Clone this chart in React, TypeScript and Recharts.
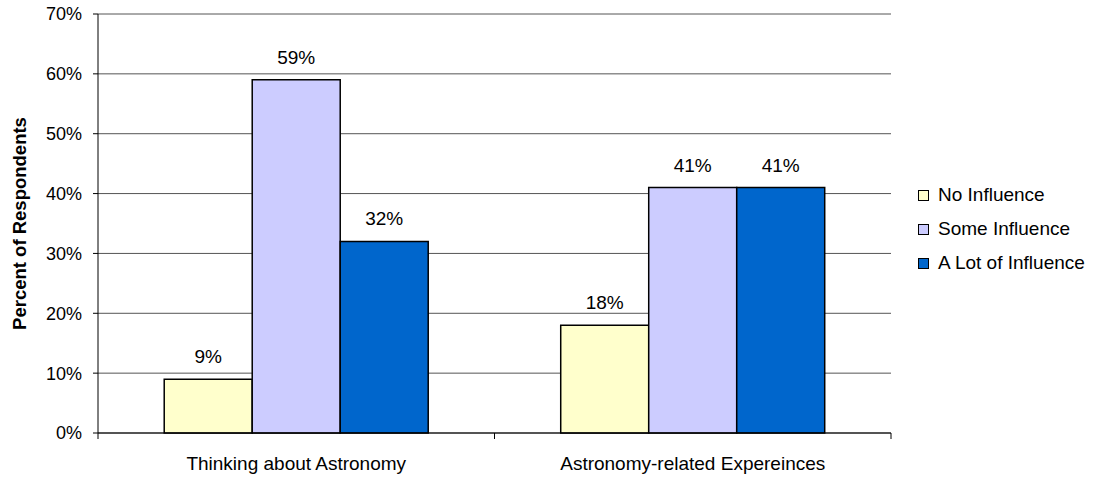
import { BarChart, Bar, XAxis, YAxis, CartesianGrid, LabelList } from 'recharts'

const categories = ['Thinking about Astronomy', 'Astronomy-related Expereinces']
const noInfluence = [9, 18]
const someInfluence = [59, 41]
const lotOfInfluence = [32, 41]
const yTicks = [0, 10, 20, 30, 40, 50, 60, 70]

const SERIES = [
  { key: 'none', name: 'No Influence', color: '#FFFFCC' },
  { key: 'some', name: 'Some Influence', color: '#CCCCFF' },
  { key: 'lot', name: 'A Lot of Influence', color: '#0066CC' },
]

const data = categories.map((c, i) => ({
  name: c,
  none: noInfluence[i],
  some: someInfluence[i],
  lot: lotOfInfluence[i],
}))

const FONT = '"Liberation Sans", Arial, sans-serif'

// category label plus tick marks at both band edges
const CategoryTick = ({ x, y, payload }: any) => {
  const half = payload?.offset ?? 0
  return (
    <g>
      <line x1={x - half} x2={x - half} y1={y} y2={y + 6} stroke="#000" />
      <line x1={x + half} x2={x + half} y1={y} y2={y + 6} stroke="#000" />
      <text x={x} y={y + 37} textAnchor="middle" fontSize={19} fill="#000" fontFamily={FONT}>
        {payload.value}
      </text>
    </g>
  )
}

const YLabel = ({ viewBox }: any) => {
  const cx = viewBox.x + 19
  const cy = viewBox.y + viewBox.height / 2
  return (
    <text
      x={cx}
      y={cy}
      transform={`rotate(-90, ${cx}, ${cy})`}
      textAnchor="middle"
      dominantBaseline="central"
      fontSize={18.5}
      fontWeight="bold"
      fill="#000"
      fontFamily={FONT}
    >
      Percent of Respondents
    </text>
  )
}

export default function App() {
  return (
    <div style={{ position: 'absolute', left: 0, top: 0, width: 1103, height: 480, background: '#fff', fontFamily: FONT }}>
      <BarChart
        width={1103}
        height={480}
        data={data}
        margin={{ top: 14, right: 212, bottom: 0, left: 0 }}
        barCategoryGap="16.7%"
        barGap={0}
        style={{ fontFamily: FONT }}
      >
        <CartesianGrid vertical={false} stroke="#555" />
        <XAxis
          dataKey="name"
          height={47}
          axisLine={{ stroke: '#000' }}
          tickLine={false}
          tickSize={0}
          tickMargin={0}
          interval={0}
          tick={<CategoryTick />}
        />
        <YAxis
          width={98}
          domain={[0, 70]}
          ticks={yTicks}
          interval={0}
          tickFormatter={v => `${v}%`}
          axisLine={{ stroke: '#000' }}
          tickLine={{ stroke: '#000' }}
          tickSize={5}
          tickMargin={11}
          tick={{ fontSize: 18, fill: '#000', fontFamily: FONT }}
          label={<YLabel />}
        />
        <YAxis
          yAxisId="frame"
          orientation="right"
          width={0}
          domain={[0, 70]}
          tick={false}
          tickLine={false}
          axisLine={{ stroke: '#808080' }}
        />
        {SERIES.map(s => (
          <Bar
            key={s.key}
            dataKey={s.key}
            name={s.name}
            fill={s.color}
            stroke="#000"
            strokeWidth={1.5}
            isAnimationActive={false}
          >
            <LabelList
              dataKey={s.key}
              position="top"
              offset={16}
              formatter={(v: any) => `${v}%`}
              style={{ fontSize: 19, fill: '#000', fontFamily: FONT }}
            />
          </Bar>
        ))}
      </BarChart>

      {/* legend, series order */}
      <div style={{ position: 'absolute', left: 918, top: 178, fontSize: 19, color: '#000' }}>
        {SERIES.map(s => (
          <div key={s.key} style={{ display: 'flex', alignItems: 'center', height: 34 }}>
            <span
              style={{
                display: 'inline-block',
                width: 9,
                height: 9,
                background: s.color,
                border: '1px solid #000',
                marginRight: 9,
              }}
            />
            {s.name}
          </div>
        ))}
      </div>
    </div>
  )
}
